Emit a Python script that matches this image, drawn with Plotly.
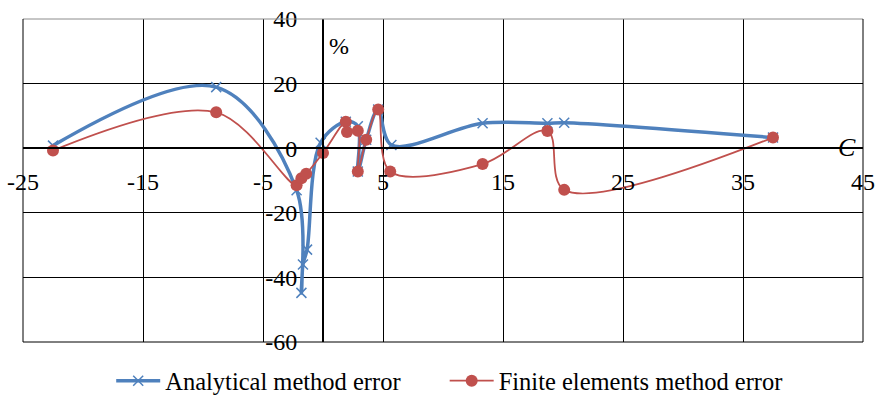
import plotly.graph_objects as go

# Relative error (%) versus parameter C
analytical_c = [-22.5, -8.9, -2.2, -1.8, -1.67, -1.33, -0.2, 1.9, 2.9, 2.9, 3.6, 4.6, 5.7, 13.3, 18.7, 20.1, 37.5]
analytical_err = [0.8, 18.9, -13.0, -44.8, -36.0, -31.4, 1.7, 8.2, 6.8, -7.2, 2.6, 12.0, 1.0, 7.7, 7.7, 7.9, 3.3]

fem_c = [-22.5, -8.9, -2.2, -1.8, -1.4, 0.0, 1.9, 2.0, 2.9, 2.9, 3.6, 4.6, 5.6, 13.3, 18.7, 20.1, 37.5]
fem_err = [-0.7, 11.1, -11.5, -9.3, -7.9, -1.5, 8.2, 5.0, 5.4, -7.2, 2.6, 12.0, -7.2, -4.9, 5.3, -12.9, 3.3]

x_ticks = [-25, -15, -5, 5, 15, 25, 35, 45]
x_tick_text = ["-25", "-15", "-5", "5", "15", "25", "35", "45"]
y_ticks = [-60, -40, -20, 0, 20, 40]
y_tick_text = ["-60", "-40", "-20", "0", "20", "40"]

x_range = [-25, 45]
y_range = [-60, 40]

BLUE = "#4F81BD"
RED = "#C0504D"
FONT = '"Times New Roman", "Liberation Serif", serif'

fig = go.Figure()

fig.add_trace(go.Scatter(
    x=analytical_c, y=analytical_err,
    mode="lines+markers",
    name="Analytical method error",
    legend="legend",
    line=dict(color=BLUE, width=3.5, shape="spline", smoothing=1.0),
    marker=dict(symbol="x-thin", size=10, line=dict(color=BLUE, width=1.5), color=BLUE),
))

fig.add_trace(go.Scatter(
    x=fem_c, y=fem_err,
    mode="lines+markers",
    name="Finite elements method error",
    legend="legend2",
    line=dict(color=RED, width=1.8, shape="spline", smoothing=1.0),
    marker=dict(symbol="circle", size=12, color=RED),
))

# axes cross at the origin
y_zero_frac = (0 - y_range[0]) / (y_range[1] - y_range[0])
x_zero_frac = (0 - x_range[0]) / (x_range[1] - x_range[0])

legend_style = dict(
    orientation="h", xanchor="left", y=-0.12, yanchor="middle",
    font=dict(family=FONT, size=24.5, color="black"),
    itemwidth=44, bgcolor="rgba(0,0,0,0)",
)

fig.update_layout(
    width=879, height=396,
    margin=dict(l=23, r=16, t=19, b=54, autoexpand=False),
    paper_bgcolor="white", plot_bgcolor="white",
    font=dict(family=FONT, size=24, color="black"),
    showlegend=True,
    legend=dict(x=0.105, **legend_style),
    legend2=dict(x=0.502, **legend_style),
    xaxis=dict(
        range=x_range, tickmode="array", tickvals=x_ticks, ticktext=x_tick_text,
        showgrid=True, gridcolor="black", gridwidth=1,
        zeroline=False,
        anchor="free", position=y_zero_frac,
        showline=True, linecolor="black", linewidth=2,
        ticks="", ticklabelstandoff=12,
        tickfont=dict(family=FONT, size=24, color="black"),
    ),
    yaxis=dict(
        range=y_range, tickmode="array", tickvals=y_ticks, ticktext=y_tick_text,
        showgrid=True, gridcolor="black", gridwidth=1,
        zeroline=False,
        anchor="free", position=x_zero_frac,
        showline=True, linecolor="black", linewidth=2,
        ticks="", ticklabelstandoff=20,
        tickfont=dict(family=FONT, size=24, color="black"),
    ),
)

# plot frame
fig.add_shape(type="line", xref="paper", yref="paper", x0=0, x1=1, y0=1, y1=1,
              line=dict(color="#8C8C8C", width=1))
fig.add_shape(type="line", xref="paper", yref="paper", x0=0, x1=1, y0=0, y1=0,
              line=dict(color="black", width=1))
fig.add_shape(type="line", xref="paper", yref="paper", x0=0, x1=0, y0=0, y1=1,
              line=dict(color="black", width=1))
fig.add_shape(type="line", xref="paper", yref="paper", x0=1, x1=1, y0=0, y1=1,
              line=dict(color="black", width=1))

# axis titles
fig.add_annotation(text="%", x=0, y=40, xref="x", yref="y", xanchor="left", yanchor="top",
                   xshift=4, yshift=-12, showarrow=False,
                   font=dict(family=FONT, size=24, color="black"))
fig.add_annotation(text="<i>C</i>", x=45, y=0, xref="x", yref="y", xanchor="right", yanchor="middle",
                   xshift=-5, yshift=1, showarrow=False,
                   font=dict(family=FONT, size=26, color="black"))

fig.write_html("out.html")
